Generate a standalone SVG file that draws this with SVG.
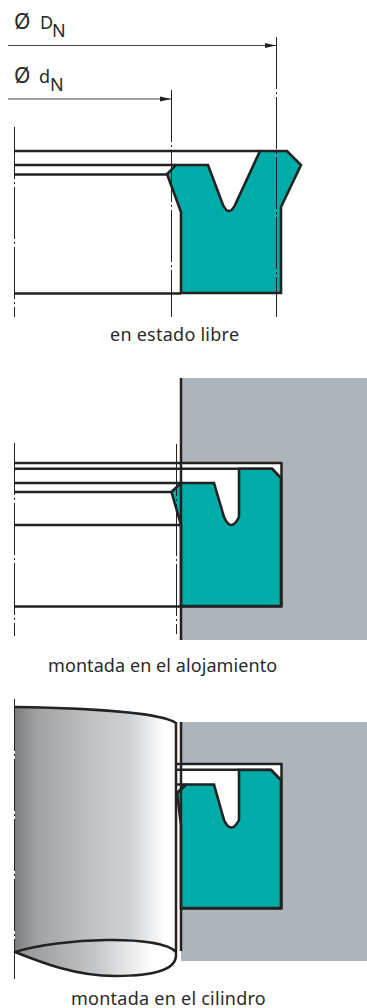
<svg xmlns="http://www.w3.org/2000/svg" width="367" height="1008" viewBox="0 0 367 1008">
<style>
text{font-family:"Noto Sans","Open Sans",sans-serif;font-size:18px;fill:#2a2a2a;letter-spacing:.25px}
.o{font-size:21px}
.t{letter-spacing:.08px}
.l{fill:none;stroke:#222;stroke-width:2.5;stroke-linejoin:round}
.s{fill:#00aca7;stroke:#222;stroke-width:2.6;stroke-linejoin:miter}
.c{fill:none;stroke:#222;stroke-width:1;stroke-dasharray:52 3 2 3}
.d{fill:none;stroke:#444;stroke-width:1.2}
.g{fill:#adb4ba}
</style>
<defs>
<marker id="a" markerUnits="userSpaceOnUse" markerWidth="12" markerHeight="6" refX="11" refY="3" orient="auto"><path d="M0 0.6L11 3L0 5.4Z" fill="#222"/></marker>
<linearGradient id="cy"><stop offset="0" stop-color="#7c7f82"/><stop offset=".14" stop-color="#a0a3a5"/><stop offset=".5" stop-color="#c0c4c6"/><stop offset=".72" stop-color="#d0d3d6"/><stop offset=".93" stop-color="#fff"/><stop offset="1" stop-color="#fff"/></linearGradient>
<linearGradient id="cb"><stop offset="0" stop-color="#8f9294"/><stop offset=".5" stop-color="#c4c7c9"/><stop offset=".85" stop-color="#fff"/></linearGradient>
</defs>
<g id="estado-libre">
<g id="seal-1"><path class="s" d="M260 151H287L301 165L281 207V293H181V212L167 174L176 165H208L223 205Q229 217 235 205Z"/></g>
<g id="lines-1">
<path class="l" d="M14 151H260M14 165H176M14 174.500H167M15 293.500H181"/>
<path class="c" d="M14.500 127V317M171.500 90V317M276.500 37V317"/>
<path class="d" d="M8 45.500H276" marker-end="url(#a)"/>
<path class="d" d="M8 99H171" marker-end="url(#a)"/>
</g>
<text class="o" x="14" y="29">Ø</text><text x="40" y="29">D</text><text x="52" y="37">N</text>
<text class="o" x="14" y="83">Ø</text><text x="39" y="83">d</text><text x="50" y="91">N</text>
<text x="110" y="341">en estado libre</text>
</g>
<g id="alojamiento">
<rect class="g" x="181" y="378" width="186" height="262"/>
<rect x="181" y="463" width="100" height="143" fill="#fff"/>
<g id="seal-2"><path class="s" d="M239 468.700H272L281 478V606H181V525L171.500 492L181 483H214L224 517Q231 533 239 517Z"/></g>
<g id="lines-2">
<path class="l" d="M181 378V640M14 463H281.500V606.500H14M14 468.700H272L281 478M14 483H181M14 492H171.500M14 525H181"/>
<path class="c" d="M14.500 443V636M176.500 444V634"/>
</g>
<text class="t" x="48" y="672">montada en el alojamiento</text>
</g>
<g id="cilindro">
<rect class="g" x="181" y="722" width="186" height="239"/>
<rect x="176" y="722" width="5" height="229" fill="#fff"/>
<rect x="176" y="764" width="105" height="144" fill="#fff"/>
<g id="seal-3"><path class="s" d="M239 770H271L281 780V908H181V825L177 793L186 784.500H214L224 820Q231 835 239 820Z"/></g>
<g id="lines-3">
<path class="l" d="M181 722V951M176 764H281.500V908.500H181M176 769.700H271L281 780M176 784.500H186L177 793"/>
</g>
<g id="cylinder">
<path d="M15 707C80 708 160 712 176 723V952C160 934 60 938 15 952Z" fill="url(#cy)"/>
<path d="M15 952C60 938 160 934 176 952C180 966 160 976 115 976C75 976 40 962 15 952Z" fill="url(#cb)"/>
<path class="l" d="M15 707C80 708 160 712 176 723V955C176 968 160 976 115 976C75 976 40 962 15 952C60 938 160 934 176 952"/>
<path class="c" d="M14.500 699V979" stroke-dasharray="42 3 2 3"/>
</g>
<text x="71" y="1005">montada en el cilindro</text>
</g>
</svg>
